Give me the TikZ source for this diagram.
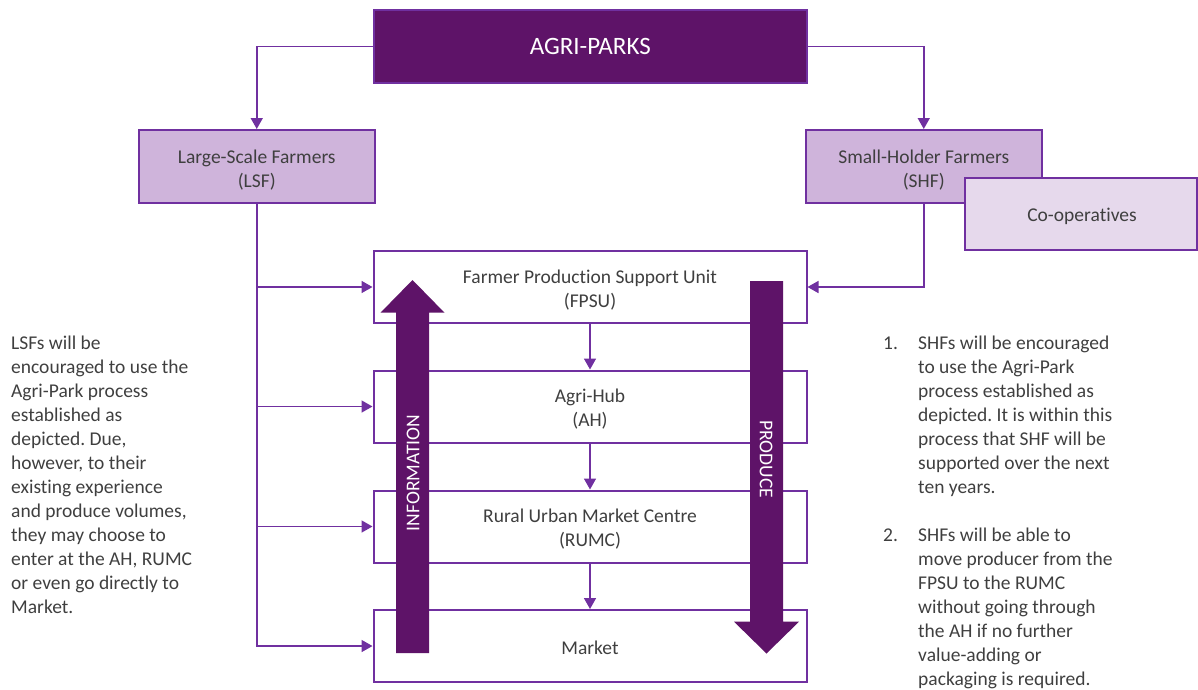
\documentclass[tikz,border=0pt]{standalone}
\usepackage{fontspec}
\setmainfont{Carlito}[Ligatures=NoCommon]
\usetikzlibrary{arrows.meta}
\definecolor{dpurple}{HTML}{5E1368}
\definecolor{mpurple}{HTML}{7030A0}
\definecolor{lpurple}{HTML}{CFB4DB}
\definecolor{llpurple}{HTML}{E6D9EC}
\definecolor{tgray}{HTML}{3F3F3F}
\newcommand\bodyfs{\fontsize{19.5}{24}\selectfont}
\frenchspacing
\begin{document}
\begin{tikzpicture}[x=1pt,y=-1pt,
  conn/.style={draw=mpurple, line width=1.6pt, -{Triangle[width=12pt,length=11pt]}},
  box/.style={draw=mpurple, line width=2pt, fill=white, minimum width=433pt, minimum height=72pt, inner sep=0pt},
  farmbox/.style={box, fill=lpurple, minimum width=236pt, minimum height=73pt},
  coopbox/.style={box, fill=llpurple, minimum width=232pt, minimum height=72.5pt},
  topbox/.style={box, fill=dpurple, text=white, minimum height=73pt, minimum width=433.5pt, font=\fontsize{25}{30}\selectfont},
  boxtext/.style={inner sep=0pt, text=tgray, font=\bodyfs, align=center},
  para/.style={anchor=base west, inner sep=0pt, text=tgray, font=\bodyfs},
  blockarrow/.style={fill=dpurple},
  arrowtext/.style={text=white, font=\bodyfs, inner sep=0pt}
]
\useasboundingbox (0,0) rectangle (1198,689);

% boxes
\node[topbox] (agri) at (590.25,46.5) {AGRI-PARKS};
\node[farmbox] (lsf) at (256.75,166.5) {};
\node[boxtext] (lsfT) at ([yshift=-3.5pt]lsf.center) {Large-Scale Farmers\\(LSF)};
\node[farmbox] (shf) at (923.75,166.5) {};
\node[boxtext] (shfT) at ([yshift=-3.5pt]shf.center) {Small-Holder Farmers\\(SHF)};
\node[coopbox] (coop) at (1081,213.75) {};
\node[boxtext] (coopT) at ([xshift=1pt,yshift=-2.5pt]coop.center) {Co-operatives};
\node[box] (fpsu) at (590,287) {};
\node[boxtext] (fpsuT) at ([yshift=-3pt]fpsu.center) {Farmer Production Support Unit\\(FPSU)};
\node[box] (ah) at (590,406.5) {};
\node[boxtext] (ahT) at ([yshift=-3pt]ah.center) {Agri-Hub\\(AH)};
\node[box] (rumc) at (590,526.5) {};
\node[boxtext] (rumcT) at ([yshift=-3pt]rumc.center) {Rural Urban Market Centre\\(RUMC)};
\node[box] (market) at (590,646) {};
\node[boxtext] (marketT) at ([yshift=-2pt]market.center) {Market};

% connectors
\draw[conn] (agri.west) -| (lsf.north);
\draw[conn] (agri.east) -| (shf.north);
\draw[conn] (lsf.south) |- (market.west);
\draw[conn] (lsf.south |- fpsu.west) -- (fpsu.west);
\draw[conn] (lsf.south |- ah.west) -- (ah.west);
\draw[conn] (lsf.south |- rumc.west) -- (rumc.west);
\draw[conn] (shf.south) |- (fpsu.east);
\draw[conn] (fpsu.south) -- (ah.north);
\draw[conn] (ah.south) -- (rumc.north);
\draw[conn] (rumc.south) -- (market.north);

% block arrows
\fill[blockarrow] (396,653) -- (396,312.7) -- (380.5,312.7) -- (412.5,280) -- (444.5,312.7) -- (429,312.7) -- (429,653) -- cycle;
\node[arrowtext, rotate=90] (info) at (413,473) {INFORMATION};
\fill[blockarrow] (750,281) -- (750,621.7) -- (734,621.7) -- (766.5,653.5) -- (799,621.7) -- (783,621.7) -- (783,281) -- cycle;
\node[arrowtext, rotate=-90] (produce) at (766,459) {PRODUCE};

% side texts
\node[para] (lsftext) at (11,349) {\parbox[t]{240pt}{\raggedright
LSFs will be\\
encouraged to use the\\
Agri-Park process\\
established as\\
depicted. Due,\\
however, to their\\
existing experience\\
and produce volumes,\\
they may choose to\\
enter at the AH, RUMC\\
or even go directly to\\
Market.}};

\node[para] (n1) at (883,349) {1.};
\node[para] (t1) at (918,349) {\parbox[t]{270pt}{\raggedright
SHFs will be encouraged\\
to use the Agri-Park\\
process established as\\
depicted. It is within this\\
process that SHF will be\\
supported over the next\\
ten years.}};
\node[para] (n2) at (883,541) {2.};
\node[para] (t2) at (918,541) {\parbox[t]{270pt}{\raggedright
SHFs will be able to\\
move producer from the\\
FPSU to the RUMC\\
without going through\\
the AH if no further\\
value-adding or\\
packaging is required.}};
\end{tikzpicture}
\end{document}
